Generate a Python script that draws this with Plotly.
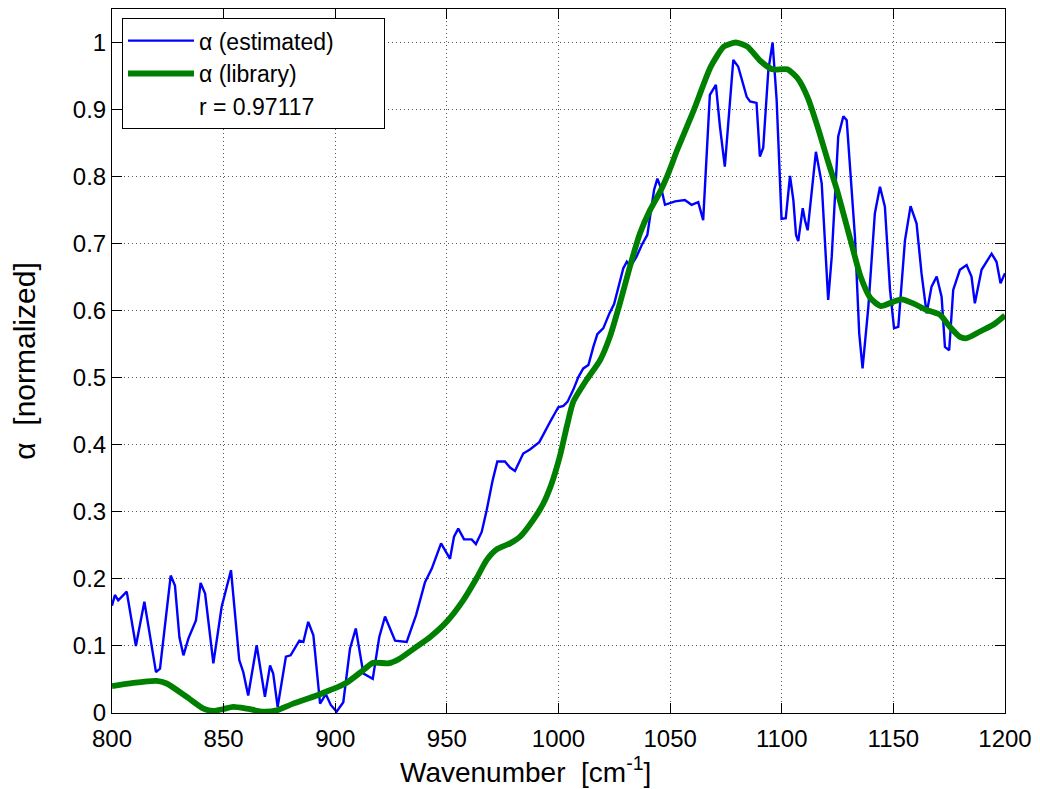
import plotly.graph_objects as go

# Absorption spectrum: estimated vs. library reference
est_wavenumber = [
    800.0, 801.3, 802.8, 806.6, 810.7, 814.5, 819.7, 821.5, 826.3, 828.2,
    830.2, 832.0, 834.2, 837.6, 839.7, 841.7, 845.4, 849.1, 853.3, 857.0,
    858.8, 861.0, 864.8, 868.5, 870.8, 872.2, 874.2, 877.9, 880.0, 882.0,
    883.9, 885.7, 887.9, 890.2, 893.2, 895.8, 898.0, 900.6, 903.6, 906.6,
    909.2, 912.6, 916.8, 919.7, 922.3, 926.8, 932.0, 936.2, 940.2, 943.2,
    947.4, 951.4, 953.2, 955.1, 957.7, 961.1, 963.0, 965.6, 967.8, 970.5,
    972.6, 976.0, 978.3, 980.5, 984.2, 987.2, 991.4, 996.2, 999.9, 1002.2,
    1004.0, 1006.6, 1008.9, 1011.1, 1013.4, 1015.6, 1017.4, 1020.1, 1022.8, 1024.9,
    1026.8, 1029.0, 1030.6, 1032.3, 1035.0, 1037.3, 1039.8, 1041.0, 1042.8, 1044.3,
    1046.2, 1047.7, 1052.2, 1056.6, 1059.6, 1062.6, 1064.8, 1067.8, 1070.5, 1072.3,
    1074.5, 1078.3, 1080.5, 1084.3, 1085.8, 1088.7, 1090.2, 1091.7, 1094.0, 1095.9,
    1097.7, 1099.9, 1101.8, 1103.7, 1105.2, 1106.4, 1107.4, 1109.4, 1110.4, 1111.6,
    1115.3, 1117.9, 1119.4, 1120.8, 1122.4, 1125.3, 1127.6, 1129.1, 1132.8, 1134.7,
    1136.2, 1138.8, 1141.7, 1144.0, 1146.2, 1148.5, 1150.3, 1152.2, 1155.2, 1157.7,
    1160.4, 1162.6, 1164.9, 1167.1, 1169.4, 1171.6, 1173.1, 1175.0, 1176.8, 1179.8,
    1182.8, 1185.0, 1186.5, 1189.5, 1194.0, 1196.2, 1198.0, 1200.0,
]
est_alpha = [
    0.160, 0.176, 0.168, 0.181, 0.100, 0.166, 0.061, 0.066, 0.205, 0.190,
    0.113, 0.086, 0.111, 0.138, 0.194, 0.178, 0.074, 0.158, 0.213, 0.079,
    0.061, 0.026, 0.101, 0.024, 0.071, 0.059, 0.009, 0.084, 0.086, 0.098,
    0.108, 0.106, 0.136, 0.116, 0.014, 0.028, 0.012, 0.002, 0.016, 0.096,
    0.126, 0.059, 0.051, 0.113, 0.144, 0.108, 0.106, 0.146, 0.195, 0.215,
    0.253, 0.230, 0.263, 0.275, 0.259, 0.259, 0.252, 0.270, 0.302, 0.347,
    0.375, 0.375, 0.366, 0.361, 0.387, 0.393, 0.404, 0.434, 0.456, 0.458,
    0.464, 0.482, 0.501, 0.514, 0.519, 0.546, 0.565, 0.574, 0.596, 0.610,
    0.636, 0.663, 0.673, 0.666, 0.681, 0.698, 0.713, 0.740, 0.780, 0.797,
    0.780, 0.758, 0.763, 0.765, 0.758, 0.762, 0.735, 0.922, 0.937, 0.875,
    0.815, 0.974, 0.964, 0.919, 0.912, 0.910, 0.830, 0.843, 0.959, 1.000,
    0.915, 0.737, 0.738, 0.801, 0.765, 0.713, 0.704, 0.753, 0.735, 0.720,
    0.837, 0.790, 0.695, 0.616, 0.681, 0.860, 0.890, 0.884, 0.710, 0.566,
    0.514, 0.606, 0.745, 0.785, 0.755, 0.631, 0.574, 0.576, 0.705, 0.756,
    0.730, 0.656, 0.596, 0.636, 0.651, 0.621, 0.546, 0.541, 0.631, 0.661,
    0.668, 0.651, 0.611, 0.661, 0.685, 0.673, 0.641, 0.656,
]

lib_wavenumber = [
    800.0, 809.5, 820.0, 824.5, 833.5, 841.0, 845.4, 850.0, 854.3, 860.3,
    867.8, 873.8, 881.2, 891.7, 897.6, 902.1, 905.1, 912.6, 917.0, 923.8,
    928.8, 936.3, 942.4, 949.9, 957.3, 963.3, 967.8, 972.3, 978.3, 982.8,
    988.7, 993.2, 996.9, 1000.7, 1003.7, 1006.6, 1012.6, 1018.6, 1023.0, 1027.5,
    1032.0, 1036.5, 1041.0, 1045.6, 1049.2, 1053.2, 1060.7, 1068.2, 1074.1, 1079.4,
    1084.6, 1090.6, 1095.8, 1102.5, 1107.0, 1111.5, 1116.0, 1120.5, 1124.9, 1130.8,
    1135.3, 1139.8, 1144.3, 1150.0, 1153.7, 1158.9, 1164.9, 1170.8, 1175.3, 1179.8,
    1182.8, 1188.8, 1194.7, 1200.0,
]
lib_alpha = [
    0.040, 0.045, 0.048, 0.044, 0.024, 0.0065, 0.003, 0.006, 0.009, 0.0065,
    0.002, 0.004, 0.014, 0.026, 0.034, 0.040, 0.045, 0.064, 0.075, 0.074,
    0.081, 0.0985, 0.113, 0.136, 0.168, 0.201, 0.228, 0.244, 0.253, 0.263,
    0.288, 0.3125, 0.342, 0.384, 0.427, 0.464, 0.497, 0.526, 0.561, 0.611,
    0.666, 0.7155, 0.750, 0.778, 0.805, 0.840, 0.900, 0.964, 0.994, 1.000,
    0.994, 0.972, 0.960, 0.960, 0.947, 0.919, 0.875, 0.825, 0.778, 0.7055,
    0.651, 0.6185, 0.607, 0.6134, 0.617, 0.611, 0.601, 0.594, 0.576, 0.561,
    0.559, 0.569, 0.579, 0.593,
]

correlation_label = "r = 0.97117"
x_ticks = [800, 850, 900, 950, 1000, 1050, 1100, 1150, 1200]
y_ticks = [0, 0.1, 0.2, 0.3, 0.4, 0.5, 0.6, 0.7, 0.8, 0.9, 1]
y_tick_text = ["0", "0.1", "0.2", "0.3", "0.4", "0.5", "0.6", "0.7", "0.8", "0.9", "1"]

FONT = "Liberation Sans, Arial, Helvetica, sans-serif"
NBSP = "\u00a0"

fig = go.Figure()
fig.add_trace(go.Scatter(
    x=est_wavenumber, y=est_alpha, mode="lines",
    name="α (estimated)" + NBSP * 7,  # trailing space widens the legend frame
    line=dict(color="#0000ff", width=2.4),
))
fig.add_trace(go.Scatter(
    x=lib_wavenumber, y=lib_alpha, mode="lines", name="α (library)",
    line=dict(color="#008000", width=5.8, shape="spline", smoothing=0.6),
))
# text-only legend row carrying the correlation coefficient
fig.add_trace(go.Scatter(
    x=[None], y=[None], mode="lines", name=correlation_label,
    line=dict(color="rgba(0,0,0,0)", width=0),
))

axis_common = dict(
    showline=True, linecolor="#000000", linewidth=1, mirror="ticks",
    ticks="inside", ticklen=10, tickcolor="#000000", tickwidth=1,
    showgrid=True, gridcolor="#555555", gridwidth=1, griddash="1px,3px",
    zeroline=False, tickfont=dict(family=FONT, size=24, color="#000000"),
)

fig.update_layout(
    width=1040, height=789,
    margin=dict(l=112, r=35, t=9, b=76),
    paper_bgcolor="white", plot_bgcolor="white",
    font=dict(family=FONT, size=24, color="#000000"),
    xaxis=dict(
        range=[800, 1200], tickvals=x_ticks, ticklabelstandoff=4,
        **axis_common,
    ),
    yaxis=dict(
        range=[0, 1.05], tickvals=y_ticks, ticktext=y_tick_text,
        title=dict(text="α" + NBSP * 2 + "[normalized]",
                   font=dict(family=FONT, size=30), standoff=28),
        **axis_common,
    ),
    legend=dict(
        x=0.0112, y=0.987, xanchor="left", yanchor="top",
        bgcolor="white", bordercolor="#000000", borderwidth=1,
        font=dict(family=FONT, size=23, color="#000000"),
        itemwidth=66, tracegroupgap=0,
    ),
    showlegend=True,
    annotations=[dict(
        text="Wavenumber" + NBSP * 2 + "[cm<sup>-1</sup>]",
        xref="paper", yref="paper", x=0.4636, y=-0.052,
        xanchor="center", yanchor="top", showarrow=False,
        font=dict(family=FONT, size=28, color="#000000"),
    )],
)

fig.write_html("out.html")
